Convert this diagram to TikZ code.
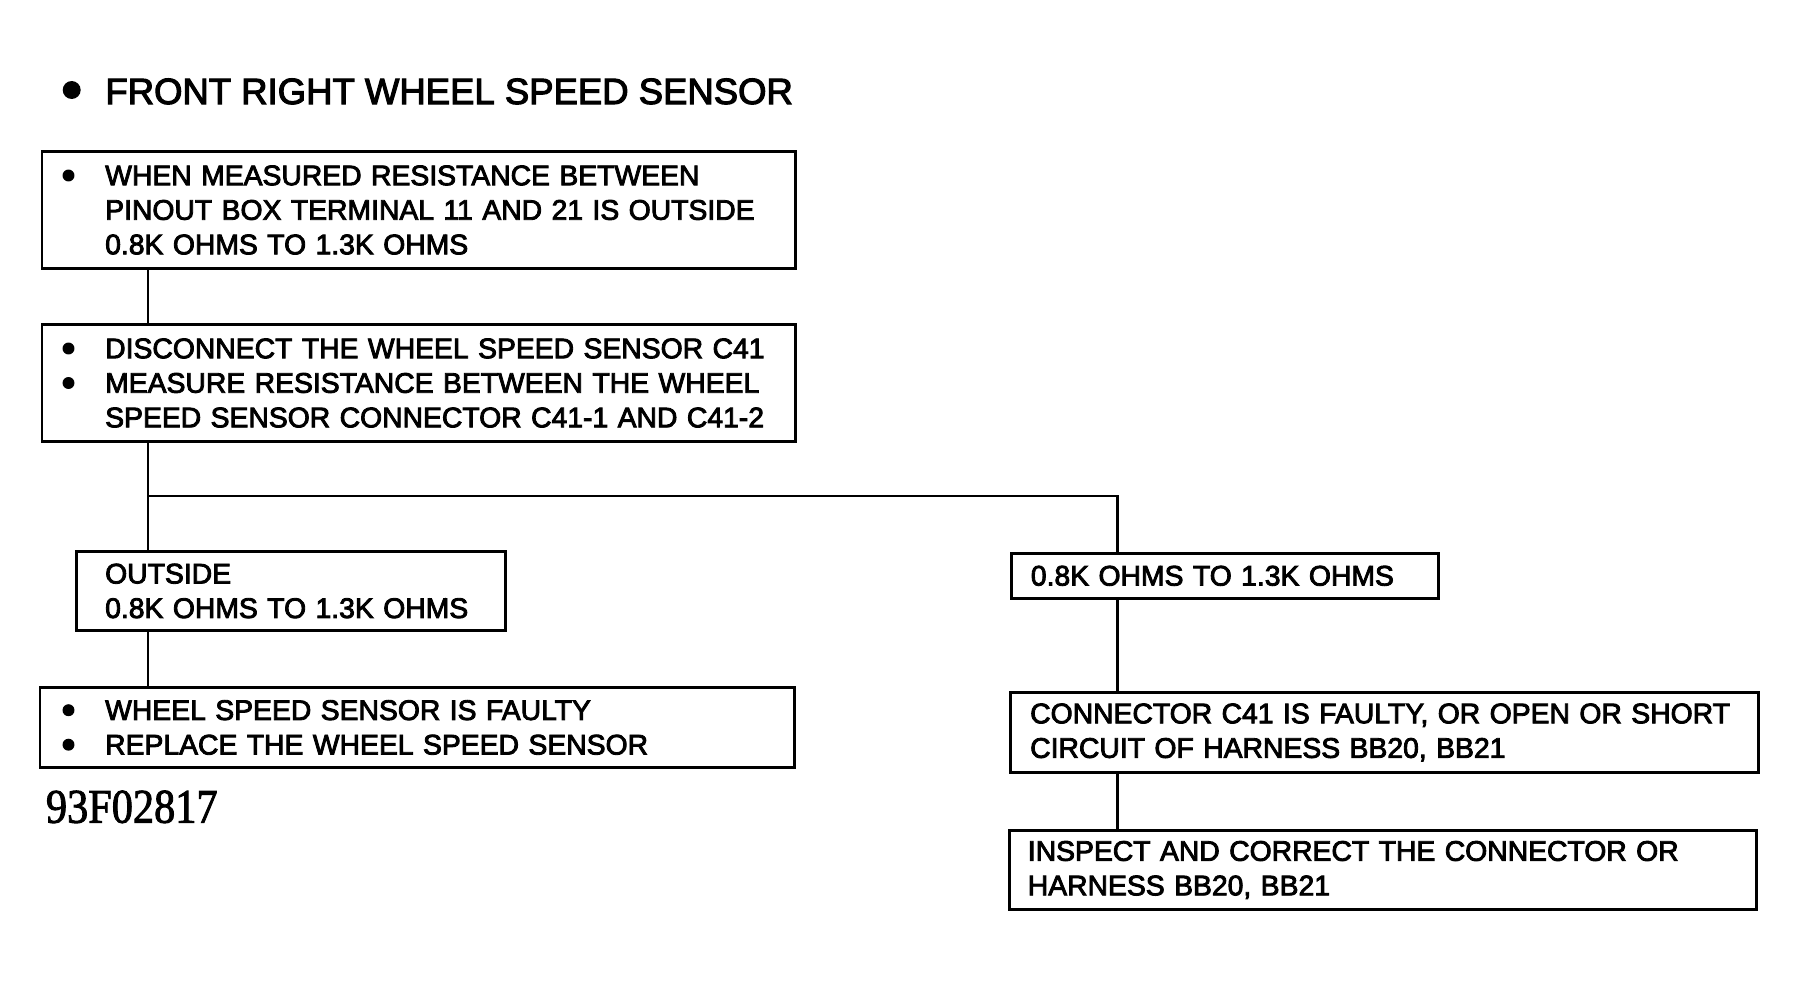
\documentclass[tikz,border=0pt]{standalone}
\usepackage{fontspec}
\setmainfont{Liberation Sans}[FakeBold=3]
\newfontfamily\labelserif{Liberation Serif}[FakeBold=2]
\usetikzlibrary{calc}
\begin{document}
\begin{tikzpicture}[x=0.4343pt,y=-0.4343pt,
  box/.style={draw, line width=1.3pt, anchor=north west, align=left,
    inner ysep=0pt, font=\fontsize{12.3}{15}\selectfont},
  link/.style={line width=0.9pt},
  bdot/.style={fill=black}]
\fill[white] (0,0) rectangle (1796,987);
\useasboundingbox (0,0) rectangle (1796,987);

% title
\node[anchor=base west, inner sep=0pt, font=\fontsize{15.85}{18}\selectfont] (title) at (105,104)
  {FRONT RIGHT WHEEL SPEED SENSOR};
\fill[bdot] ($(title.base west)+(-33.3,-14)$) circle (3.9pt);

% left column
\node[box, inner xsep=27.45pt, text width=272.3pt, minimum height=50.8pt] (b1) at (40.5,150)
  {\mbox{WHEN MEASURED RESISTANCE BETWEEN}\\
   \mbox{PINOUT BOX TERMINAL 11 AND 21 IS OUTSIDE}\\
   \mbox{0.8K OHMS TO 1.3K OHMS}};
\fill[bdot] ($(b1.west)+(28,-34.5)$) circle (2.6pt);

\node[box, inner xsep=27.45pt, text width=272.3pt, minimum height=50.8pt] (b2) at (40.5,323)
  {\mbox{DISCONNECT THE WHEEL SPEED SENSOR C41}\\
   \mbox{MEASURE RESISTANCE BETWEEN THE WHEEL}\\
   \mbox{SPEED SENSOR CONNECTOR C41-1 AND C41-2}};
\fill[bdot] ($(b2.west)+(28,-34.5)$) circle (2.6pt);
\fill[bdot] ($(b2.west)+(28,0)$) circle (2.6pt);

\node[box, inner xsep=12.46pt, text width=161.4pt, minimum height=34.7pt] (b3) at (75,549.5)
  {\mbox{OUTSIDE}\\
   \mbox{0.8K OHMS TO 1.3K OHMS}};

\node[box, inner xsep=28.3pt, text width=271.1pt, minimum height=34.7pt] (b5) at (38.5,686)
  {\mbox{WHEEL SPEED SENSOR IS FAULTY}\\
   \mbox{REPLACE THE WHEEL SPEED SENSOR}};
\fill[bdot] ($(b5.west)+(30,-17.25)$) circle (2.6pt);
\fill[bdot] ($(b5.west)+(30,17.25)$) circle (2.6pt);

\node[anchor=base west, inner sep=0pt, font={\labelserif\fontsize{21}{24}\selectfont}] (fig) at (45.5,822.7)
  {\scalebox{0.875}[1]{93F02817}};

% right column
\node[box, inner xsep=8.4pt, text width=168.6pt, minimum height=19.8pt] (b4) at (1010,551.5)
  {\mbox{0.8K OHMS TO 1.3K OHMS}};

\node[box, inner xsep=8.55pt, text width=307.8pt, minimum height=34.7pt] (b6) at (1009,691)
  {\mbox{CONNECTOR C41 IS FAULTY, OR OPEN OR SHORT}\\
   \mbox{CIRCUIT OF HARNESS BB20, BB21}};

\node[box, inner xsep=7.95pt, text width=308.5pt, minimum height=34.7pt] (b7) at (1008,828.5)
  {\mbox{INSPECT AND CORRECT THE CONNECTOR OR}\\
   \mbox{HARNESS BB20, BB21}};

% connectors
\coordinate (L) at (148,0);
\coordinate (R) at (1117.5,0);
\coordinate (J) at (148,496);

\draw[link] (b1.south -| L) -- (b2.north -| L);
\draw[link] (b2.south -| L) -- (b3.north -| L);
\draw[link] (J) -| (b4.north -| R);
\draw[link] (b3.south -| L) -- (b5.north -| L);
\draw[link] (b4.south -| R) -- (b6.north -| R);
\draw[link] (b6.south -| R) -- (b7.north -| R);
\end{tikzpicture}
\end{document}
